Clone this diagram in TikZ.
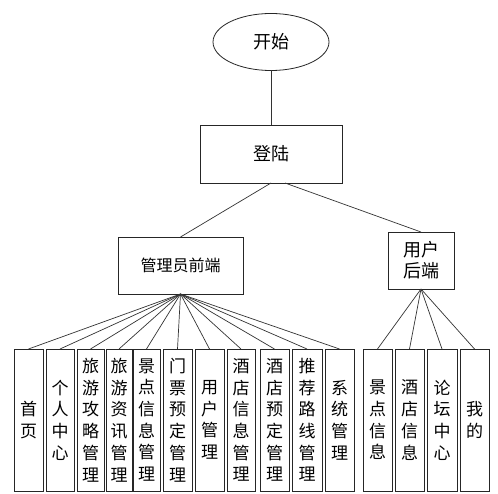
\documentclass[tikz,border=0pt]{standalone}
\usepackage{fontspec}
\setmainfont{Noto Sans CJK SC}
\usetikzlibrary{shapes.geometric}
\begin{document}
\begin{tikzpicture}[x=1pt,y=-1pt,
  every node/.style={inner sep=0pt, outer sep=0pt},
  ln/.style={draw=black!85, line width=0.8pt},
  topbox/.style={ln, rectangle, font=\fontsize{18}{21}\selectfont, align=center},
  vbox/.style={ln, rectangle, minimum height=142pt, align=center, font=\fontsize{17}{21.7}\selectfont},
  conn/.style={draw=black!80, line width=0.7pt}
]
\useasboundingbox[fill=white] (0,0) rectangle (498,494);
\node[ln, ellipse, minimum width=116pt, minimum height=57pt, font=\fontsize{18}{21}\selectfont] (start) at (271,42) {开始};
\node[topbox, minimum width=142pt, minimum height=58pt] (login) at (271,154) {登陆};
\node[topbox, minimum width=125pt, minimum height=57pt, font=\fontsize{16}{20}\selectfont] (admin) at (180.5,265.5) {管理员前端};
\node[topbox, minimum width=66pt, minimum height=57pt] (user) at (421,260.5) {用户\\后端};

\node[vbox, minimum width=29pt] (b1) at (28.5,420) {首\\页};
\node[vbox, minimum width=28pt] (b2) at (60,420) {个\\人\\中\\心};
\node[vbox, minimum width=27pt] (b3) at (90.5,420) {旅\\游\\攻\\略\\管\\理};
\node[vbox, minimum width=26pt] (b4) at (119,420) {旅\\游\\资\\讯\\管\\理};
\node[vbox, minimum width=27pt] (b5) at (146.5,420) {景\\点\\信\\息\\管\\理};
\node[vbox, minimum width=29pt] (b6) at (177.5,420) {门\\票\\预\\定\\管\\理};
\node[vbox, minimum width=29pt] (b7) at (209.5,420) {用\\户\\管\\理};
\node[vbox, minimum width=28pt] (b8) at (241,420) {酒\\店\\信\\息\\管\\理};
\node[vbox, minimum width=29pt] (b9) at (274.5,420) {酒\\店\\预\\定\\管\\理};
\node[vbox, minimum width=30pt] (b10) at (307,420) {推\\荐\\路\\线\\管\\理};
\node[vbox, minimum width=29pt] (b11) at (339.5,420) {系\\统\\管\\理};
\node[vbox, minimum width=29pt] (u1) at (377.5,420) {景\\点\\信\\息};
\node[vbox, minimum width=29pt] (u2) at (409.5,420) {酒\\店\\信\\息};
\node[vbox, minimum width=30pt] (u3) at (442,420) {论\\坛\\中\\心};
\node[vbox, minimum width=29pt] (u4) at (474.5,420) {我\\的};

\draw[conn] (start.south) -- (login.north);
\draw[conn] (login.south) -- (admin.north);
\draw[conn] ([xshift=14pt]login.south) -- (user.north);
\foreach \b in {b1,b2,b3,b4,b5,b6,b7,b8,b9,b10,b11}
  \draw[conn] (admin.south) -- (\b.north);
\foreach \b in {u1,u2,u3,u4}
  \draw[conn] (user.south) -- (\b.north);
\end{tikzpicture}
\end{document}
